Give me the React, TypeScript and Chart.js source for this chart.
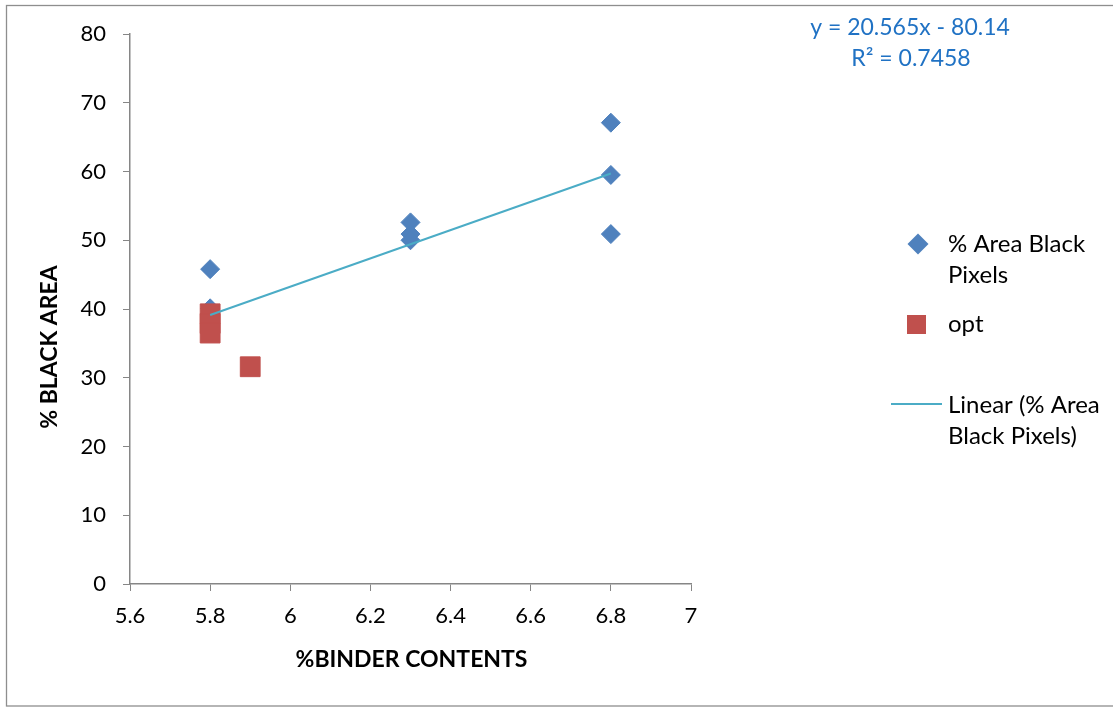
import React, { useEffect, useRef } from "react";
import { Chart, registerables } from "chart.js";

Chart.register(...registerables);

// ---- data ----
const binderContent = [5.8, 5.8, 6.3, 6.3, 6.3, 6.8, 6.8, 6.8];
const blackAreaPct = [45.8, 40.1, 52.6, 50.9, 50.0, 67.1, 59.5, 50.9];
const optBinder = [5.8, 5.8, 5.8, 5.9];
const optArea = [39.3, 37.9, 36.5, 31.6];
const trendSlope = 20.565;
const trendIntercept = -80.14;
const trendRange = [5.8, 6.8];
const xTickValues = [5.6, 5.8, 6, 6.2, 6.4, 6.6, 6.8, 7];
const yTickValues = [0, 10, 20, 30, 40, 50, 60, 70, 80];
const seriesNames = ["% Area Black Pixels", "opt", "Linear (% Area Black Pixels)"];
const legendLines = [["% Area Black", "Pixels"], ["opt"], ["Linear (% Area", "Black Pixels)"]];
const xTitle = "%BINDER CONTENTS";
const yTitle = "% BLACK AREA";
const equationText = "y = 20.565x - 80.14";
const r2Text = "R\u00B2 = 0.7458";

const FONT = "Lato, 'Open Sans', sans-serif";
const BLUE = "#4F81BD";
const RED = "#C0504D";
const TREND = "#4BACC6";
const AXIS = "#868686";

const decorPlugin = {
  id: "decor",
  afterDraw(chart: any) {
    const ctx = chart.ctx as CanvasRenderingContext2D;
    ctx.save();
    // outer chart border
    ctx.strokeStyle = "#8e8e8e";
    ctx.lineWidth = 1.3;
    ctx.strokeRect(6.5, 5.5, 1120, 700.5);

    // axis titles
    ctx.fillStyle = "#000";
    ctx.font = `bold 23px ${FONT}`;
    ctx.textAlign = "center";
    ctx.textBaseline = "alphabetic";
    const area = chart.chartArea;
    ctx.fillText(xTitle, (area.left + area.right) / 2 + 1, 667);
    ctx.save();
    ctx.translate(57, 347);
    ctx.rotate(-Math.PI / 2);
    ctx.fillText(yTitle, 0, 0);
    ctx.restore();

    // trendline equation
    ctx.fillStyle = "#2072C4";
    ctx.font = `23px ${FONT}`;
    ctx.textAlign = "center";
    ctx.fillText(equationText, 910, 35);
    ctx.fillText(r2Text, 911, 66);

    // legend
    ctx.textAlign = "left";
    ctx.font = `24px ${FONT}`;
    const tx = 948;
    // diamond
    ctx.fillStyle = BLUE;
    ctx.beginPath();
    ctx.moveTo(918 - 10.5, 244);
    ctx.lineTo(918, 244 - 10.5);
    ctx.lineTo(918 + 10.5, 244);
    ctx.lineTo(918, 244 + 10.5);
    ctx.closePath();
    ctx.fill();
    ctx.fillStyle = "#000";
    ctx.fillText(legendLines[0][0], tx, 252);
    ctx.fillText(legendLines[0][1], tx, 283);
    // square
    ctx.fillStyle = RED;
    ctx.fillRect(907, 315, 19, 19);
    ctx.fillStyle = "#000";
    ctx.fillText(legendLines[1][0], tx, 332);
    // line
    ctx.strokeStyle = TREND;
    ctx.lineWidth = 2;
    ctx.beginPath();
    ctx.moveTo(891, 404);
    ctx.lineTo(942, 404);
    ctx.stroke();
    ctx.fillText(legendLines[2][0], tx, 413);
    ctx.fillText(legendLines[2][1], tx, 444);
    ctx.restore();
  },
};

export default function App() {
  const ref = useRef<HTMLCanvasElement | null>(null);

  useEffect(() => {
    if (!ref.current) return;
    const blue = binderContent.map((x, i) => ({ x, y: blackAreaPct[i] }));
    const red = optBinder.map((x, i) => ({ x, y: optArea[i] }));
    const trend = trendRange.map((x) => ({ x, y: trendSlope * x + trendIntercept }));

    const chart = new Chart(ref.current, {
      type: "scatter",
      data: {
        datasets: [
          {
            label: seriesNames[2],
            data: trend,
            showLine: true,
            borderColor: TREND,
            borderWidth: 2,
            pointRadius: 0,
            fill: false,
            order: 0,
          } as any,
          {
            label: seriesNames[1],
            data: red,
            pointStyle: "rect",
            pointRadius: 14,
            backgroundColor: RED,
            borderColor: RED,
            borderWidth: 1,
            order: 1,
          },
          {
            label: seriesNames[0],
            data: blue,
            pointStyle: "rectRot",
            pointRadius: 9.5,
            backgroundColor: BLUE,
            borderColor: BLUE,
            borderWidth: 1,
            order: 2,
          },
        ],
      },
      options: {
        animation: false,
        responsive: false,
        devicePixelRatio: 1,
        layout: { padding: { top: 34, right: 422, bottom: 0, left: 0 } },
        plugins: {
          legend: { display: false },
          tooltip: { enabled: false },
        },
        scales: {
          x: {
            type: "linear",
            min: 5.6,
            max: 7,
            afterBuildTicks: (s: any) => {
              s.ticks = xTickValues.map((v) => ({ value: v }));
            },
            afterFit: (s: any) => {
              s.height = 123;
            },
            ticks: {
              font: { family: FONT, size: 22 },
              color: "#000",
              padding: 12,
              autoSkip: false,
              maxRotation: 0,
              callback: (v: any) => String(Number(Number(v).toFixed(1))),
            },
            grid: {
              drawOnChartArea: false,
              drawTicks: true,
              tickLength: 7,
              color: AXIS,
            },
            border: { color: AXIS, width: 1.5 },
          },
          y: {
            type: "linear",
            min: 0,
            max: 80,
            afterBuildTicks: (s: any) => {
              s.ticks = yTickValues.map((v) => ({ value: v }));
            },
            afterFit: (s: any) => {
              s.width = 130;
            },
            ticks: {
              font: { family: FONT, size: 22 },
              color: "#000",
              padding: 17,
              callback: (v: any) => String(v),
            },
            grid: {
              drawOnChartArea: false,
              drawTicks: true,
              tickLength: 7,
              color: AXIS,
            },
            border: { color: AXIS, width: 1.5 },
          },
        },
      },
      plugins: [decorPlugin],
    });
    return () => chart.destroy();
  }, []);

  return (
    <div style={{ position: "absolute", left: 0, top: 0, width: 1113, height: 707, background: "#fff" }}>
      <canvas ref={ref} width={1113} height={707} style={{ display: "block", width: 1113, height: 707 }} />
    </div>
  );
}
